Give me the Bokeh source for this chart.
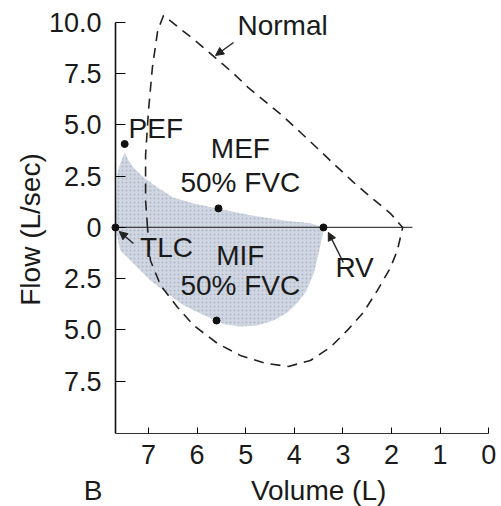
import math
from bokeh.plotting import figure
from bokeh.models import Range1d, FixedTicker, Label, Arrow, NormalHead
from bokeh.embed import file_html
from bokeh.resources import INLINE

# ---- data (volume in L, flow in L/sec; inspiratory flow negative) ----
normal_exp_vol = [7.02, 7.06, 7.06, 7.00, 6.92, 6.81, 6.69, 5.99, 5.25, 4.96, 4.22, 3.87, 3.52, 3.15, 2.78, 2.39, 2.02, 1.77]
normal_exp_flow = [0.00, 1.32, 3.51, 5.71, 7.80, 9.61, 10.34, 9.02, 7.51, 6.85, 5.40, 4.63, 3.85, 3.02, 2.20, 1.41, 0.68, 0.00]
normal_insp_vol = [1.77, 1.88, 2.02, 2.29, 2.58, 2.91, 3.26, 3.67, 4.12, 4.59, 5.11, 5.58, 6.07, 6.40, 6.75, 6.96, 7.02]
normal_insp_flow = [0.00, -1.12, -1.95, -3.07, -4.15, -5.02, -5.85, -6.49, -6.78, -6.63, -6.24, -5.66, -4.78, -3.90, -2.83, -1.61, 0.00]

obst_exp_vol = [7.68, 7.66, 7.64, 7.58, 7.49, 7.41, 7.31, 7.10, 6.81, 6.49, 6.07, 5.58, 4.90, 4.22, 3.67, 3.40]
obst_exp_flow = [0.00, 1.32, 2.63, 3.12, 3.66, 3.27, 2.93, 2.44, 1.95, 1.46, 1.17, 0.93, 0.59, 0.34, 0.20, 0.00]
obst_insp_vol = [3.40, 3.42, 3.50, 3.60, 3.77, 3.93, 4.14, 4.43, 4.76, 5.11, 5.42, 5.62, 5.93, 6.28, 6.61, 6.96, 7.31, 7.58, 7.68]
obst_insp_flow = [0.00, -0.39, -1.27, -2.24, -3.17, -3.66, -4.15, -4.54, -4.78, -4.83, -4.73, -4.54, -4.20, -3.80, -3.22, -2.59, -1.76, -1.12, 0.00]

point_names = ["TLC", "PEF", "MEF", "MIF", "RV"]
point_vol = [7.68, 7.49, 5.56, 5.60, 3.40]
point_flow = [0.00, 4.07, 0.93, -4.54, 0.00]

zero_line_vol = [7.68, 1.57]
zero_line_flow = [0.0, 0.0]

y_ticks = [10.0, 7.5, 5.0, 2.5, 0.0, -2.5, -5.0, -7.5]
y_tick_labels = ["10.0", "7.5", "5.0", "2.5", "0", "2.5", "5.0", "7.5"]
x_ticks = [0, 1, 2, 3, 4, 5, 6, 7]
x_tick_labels = ["0", "1", "2", "3", "4", "5", "6", "7"]

VOL_MAX = 7.68     # left end of the volume axis
FLOW_MIN = -10.05  # bottom end of the flow axis
FLOW_MAX = 10.0    # top end of the flow axis

FONT = "Liberation Sans"
TXT = "#1a1a1a"

# the frame fills the whole canvas; axes are drawn at fixed data locations
p = figure(width=501, height=506, output_backend="svg", toolbar_location=None,
           x_range=Range1d(10.045, -0.263), y_range=Range1d(-13.61, 11.07))
p.min_border_left = 0
p.min_border_right = 0
p.min_border_top = 0
p.min_border_bottom = 0
p.outline_line_color = None
p.xgrid.visible = False
p.ygrid.visible = False
p.background_fill_color = "white"
p.border_fill_color = "white"

# y axis
yax = p.yaxis[0]
yax.fixed_location = VOL_MAX
yax.ticker = FixedTicker(ticks=y_ticks)
yax.major_label_overrides = {t: l for t, l in zip(y_ticks, y_tick_labels)}
yax.bounds = (FLOW_MIN, FLOW_MAX)
yax.major_tick_in = 10
yax.major_tick_out = 0
yax.minor_tick_line_color = None
yax.axis_line_width = 1.6
yax.axis_line_color = "#111"
yax.major_tick_line_width = 1.2
yax.major_label_standoff = 14
yax.major_label_text_font = FONT
yax.major_label_text_font_size = "27px"
yax.major_label_text_color = TXT

# x axis
xax = p.xaxis[0]
xax.fixed_location = FLOW_MIN
xax.ticker = FixedTicker(ticks=x_ticks)
xax.major_label_overrides = {t: l for t, l in zip(x_ticks, x_tick_labels)}
xax.bounds = (0, VOL_MAX)
xax.major_tick_in = 6
xax.major_tick_out = 0
xax.minor_tick_line_color = None
xax.axis_line_width = 1.2
xax.axis_line_color = "#333"
xax.major_tick_line_width = 1.0
xax.major_label_standoff = 11
xax.major_label_text_font = FONT
xax.major_label_text_font_size = "27px"
xax.major_label_text_color = TXT

# shaded obstructive loop
p.patch(obst_exp_vol + obst_insp_vol, obst_exp_flow + obst_insp_flow,
        fill_color="#d1d7e2", line_color=None,
        hatch_pattern=".", hatch_color="#8a96aa", hatch_scale=4, hatch_alpha=0.5)

# zero-flow line
p.line(zero_line_vol, zero_line_flow, line_color="#444", line_width=1.2)

# normal loop (dashed)
p.line(normal_exp_vol + normal_insp_vol, normal_exp_flow + normal_insp_flow,
       line_color="#222", line_width=1.6, line_dash="10 7")

# points
p.scatter(point_vol, point_flow, size=7, color="#111")

# text labels (y = vertical centre of the text)
def lab(text, x, y, align="left", size="28px", angle=0.0):
    p.add_layout(Label(x=x, y=y, text=text, text_align=align, text_baseline="middle", angle=angle,
                       text_font=FONT, text_font_size=size, text_color=TXT))

lab("Normal", 5.17, 9.85)
lab("PEF", 7.41, 4.83)
lab("MEF", 5.11, 3.85, align="center")
lab("50% FVC", 5.11, 2.20, align="center")
lab("TLC", 6.63, -0.98, align="center")
lab("MIF", 5.11, -1.37, align="center")
lab("50% FVC", 5.11, -2.85, align="center")
lab("RV", 2.76, -1.95, align="center")
lab("B", 8.14, -12.83, align="center")
lab("Volume (L)", 3.50, -12.83, align="center")
lab("Flow (L/sec)", 9.43, -0.10, align="center", angle=math.pi / 2)

# arrows
for (x0, y0, x1, y1) in [(5.25, 9.02, 5.62, 8.39), (2.99, -1.71, 3.30, -0.24), (7.31, -0.78, 7.60, -0.20)]:
    p.add_layout(Arrow(x_start=x0, y_start=y0, x_end=x1, y_end=y1, line_width=1.4, line_color="#222",
                       end=NormalHead(size=8, fill_color="#222", line_color="#222")))

open("out.html", "w").write(file_html(p, INLINE))
